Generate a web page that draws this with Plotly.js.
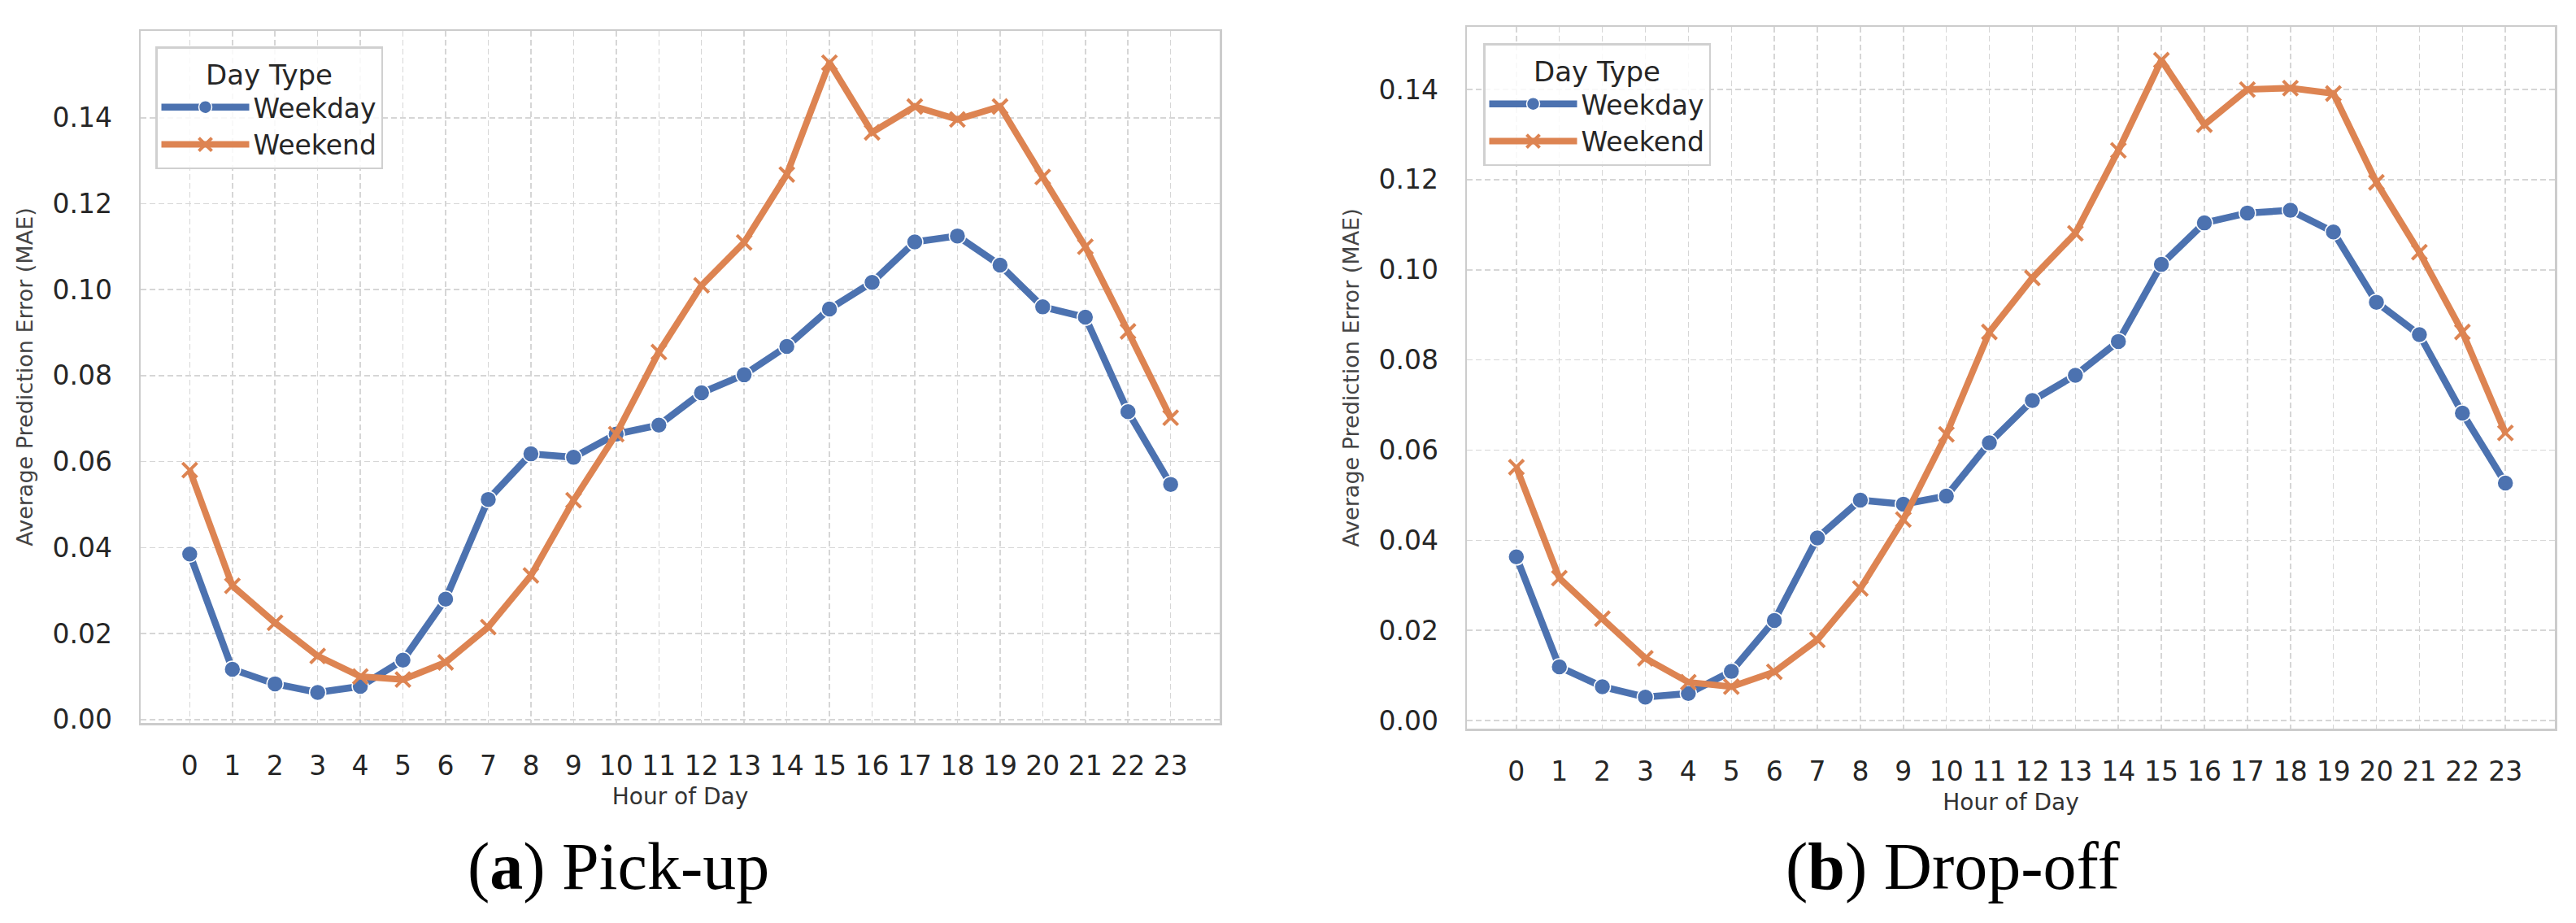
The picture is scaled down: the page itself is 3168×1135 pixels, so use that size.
<!DOCTYPE html>
<html>
<head>
<meta charset="utf-8">
<script src="https://cdn.plot.ly/plotly-3.0.1.min.js"></script>
<style>
  html, body { margin: 0; padding: 0; background: #ffffff; }
  #chart { width: 3168px; height: 1135px; }
</style>
</head>
<body>
<div id="chart"></div>
<script>
// ---- Data ----
const hours = [0, 1, 2, 3, 4, 5, 6, 7, 8, 9, 10, 11, 12, 13, 14, 15, 16, 17, 18, 19, 20, 21, 22, 23];
const hourLabels = ['0', '1', '2', '3', '4', '5', '6', '7', '8', '9', '10', '11', '12', '13', '14', '15', '16', '17', '18', '19', '20', '21', '22', '23'];
const yTickVals = [0.00, 0.02, 0.04, 0.06, 0.08, 0.10, 0.12, 0.14];
const yTickText = ['0.00', '0.02', '0.04', '0.06', '0.08', '0.10', '0.12', '0.14'];
const seriesNames = ['Weekday', 'Weekend'];
const legendTitle = 'Day Type';
const xTitle = 'Hour of Day';
const yTitle = 'Average Prediction Error (MAE)';
const panelLabels = ['a', 'b'];
const panelNames = ['Pick-up', 'Drop-off'];

// (a) Pick-up
const pickupWeekday = [0.0385, 0.0117, 0.0083, 0.0063, 0.0077, 0.0138, 0.0280, 0.0512, 0.0618, 0.0610, 0.0664, 0.0685, 0.0760, 0.0802, 0.0868, 0.0955, 0.1017, 0.1111, 0.1125, 0.1057, 0.0960, 0.0936, 0.0716, 0.0547];
const pickupWeekend = [0.0580, 0.0311, 0.0225, 0.0148, 0.0100, 0.0093, 0.0133, 0.0215, 0.0335, 0.0510, 0.0664, 0.0855, 0.1010, 0.1110, 0.1268, 0.1528, 0.1366, 0.1426, 0.1396, 0.1426, 0.1262, 0.1100, 0.0903, 0.0702];
// (b) Drop-off
const dropoffWeekday = [0.0363, 0.0119, 0.0075, 0.0052, 0.0060, 0.0109, 0.0222, 0.0405, 0.0489, 0.0480, 0.0498, 0.0616, 0.0710, 0.0766, 0.0841, 0.1012, 0.1104, 0.1126, 0.1132, 0.1084, 0.0928, 0.0856, 0.0682, 0.0527];
const dropoffWeekend = [0.0562, 0.0316, 0.0226, 0.0138, 0.0085, 0.0075, 0.0108, 0.0179, 0.0293, 0.0446, 0.0635, 0.0862, 0.0982, 0.1081, 0.1265, 0.1465, 0.1322, 0.1400, 0.1403, 0.1391, 0.1194, 0.1039, 0.0862, 0.0638];

// ---- Styles ----
const BLUE = '#4C72B0';
const ORANGE = '#DD8452';
const FONT = 'DejaVu Sans, Verdana, sans-serif';
const TICKCOL = '#262626';
const FRAME = '#cccccc';
const GRID = '#d6d6d6';

function weekdayTrace(y, xa, ya, lg) {
  return {
    x: hours, y: y, xaxis: xa, yaxis: ya, legend: lg,
    name: seriesNames[0], type: 'scatter', mode: 'lines+markers',
    line: { color: BLUE, width: 8.5 },
    marker: { symbol: 'circle', size: 20, color: BLUE, line: { color: '#ffffff', width: 1.5 } }
  };
}
function weekendTrace(y, xa, ya, lg) {
  return {
    x: hours, y: y, xaxis: xa, yaxis: ya, legend: lg,
    name: seriesNames[1], type: 'scatter', mode: 'lines+markers',
    line: { color: ORANGE, width: 8 },
    marker: { symbol: 'x-thin', size: 18, color: ORANGE, line: { color: ORANGE, width: 4 } }
  };
}

const data = [
  weekdayTrace(pickupWeekday, 'x', 'y', 'legend'),
  weekendTrace(pickupWeekend, 'x', 'y', 'legend'),
  weekdayTrace(dropoffWeekday, 'x2', 'y2', 'legend2'),
  weekendTrace(dropoffWeekend, 'x2', 'y2', 'legend2')
];

function xAxis(domain, anchor) {
  return {
    domain: domain, anchor: anchor,
    range: [-1.15, 24.15],
    tickmode: 'array', tickvals: hours, ticktext: hourLabels,
    ticks: '', ticklabelstandoff: 22,
    tickfont: { family: FONT, size: 33, color: TICKCOL },
    showgrid: true, gridcolor: GRID, gridwidth: 1.5, griddash: '7px,4px',
    zeroline: false,
    showline: true, mirror: true, linecolor: FRAME, linewidth: 2.5,
    title: { text: xTitle, font: { family: FONT, size: 28, color: '#333333' }, standoff: 10 }
  };
}
function yAxis(domain, anchor, range) {
  return {
    domain: domain, anchor: anchor,
    range: range,
    tickmode: 'array', tickvals: yTickVals, ticktext: yTickText,
    ticks: '', ticklabelstandoff: 26,
    tickfont: { family: FONT, size: 33, color: TICKCOL },
    showgrid: true, gridcolor: GRID, gridwidth: 1.5, griddash: '7px,4px',
    zeroline: false,
    showline: true, mirror: true, linecolor: FRAME, linewidth: 2.5,
    title: { text: yTitle, font: { family: FONT, size: 27, color: '#444444' }, standoff: 16 }
  };
}
function legendBox(x, y) {
  return {
    x: x, y: y, xanchor: 'left', yanchor: 'top',
    bgcolor: 'rgba(255,255,255,0.85)', bordercolor: '#d0d0d0', borderwidth: 2.5,
    font: { family: FONT, size: 33, color: TICKCOL },
    title: { text: legendTitle, side: 'top center', font: { family: FONT, size: 34, color: TICKCOL } },
    itemwidth: 108, tracegroupgap: 0
  };
}

const layout = {
  width: 3168, height: 1135,
  margin: { l: 0, r: 0, t: 0, b: 0 },
  paper_bgcolor: '#ffffff', plot_bgcolor: '#ffffff',
  showlegend: true,
  xaxis: xAxis([173 / 3168, 1500 / 3168], 'y'),
  yaxis: yAxis([(1135 - 889) / 1135, (1135 - 38) / 1135], 'x', [-0.0008, 0.1602]),
  xaxis2: xAxis([1804 / 3168, 3142 / 3168], 'y2'),
  yaxis2: yAxis([(1135 - 896) / 1135, (1135 - 33) / 1135], 'x2', [-0.0018, 0.1539]),
  legend: legendBox(191 / 3168, (1135 - 57) / 1135),
  legend2: legendBox(1824 / 3168, (1135 - 53) / 1135),
  annotations: [
    { xref: 'paper', yref: 'paper', x: 760 / 3168, y: (1135 - 1065) / 1135, xanchor: 'center', yanchor: 'middle',
      text: '(<b>' + panelLabels[0] + '</b>) ' + panelNames[0], showarrow: false,
      font: { family: 'Liberation Serif, Times New Roman, serif', size: 82, color: '#000000' } },
    { xref: 'paper', yref: 'paper', x: 2401 / 3168, y: (1135 - 1065) / 1135, xanchor: 'center', yanchor: 'middle',
      text: '(<b>' + panelLabels[1] + '</b>) ' + panelNames[1], showarrow: false,
      font: { family: 'Liberation Serif, Times New Roman, serif', size: 82, color: '#000000' } }
  ]
};

Plotly.newPlot('chart', data, layout, { staticPlot: true, displayModeBar: false });
</script>
</body>
</html>
